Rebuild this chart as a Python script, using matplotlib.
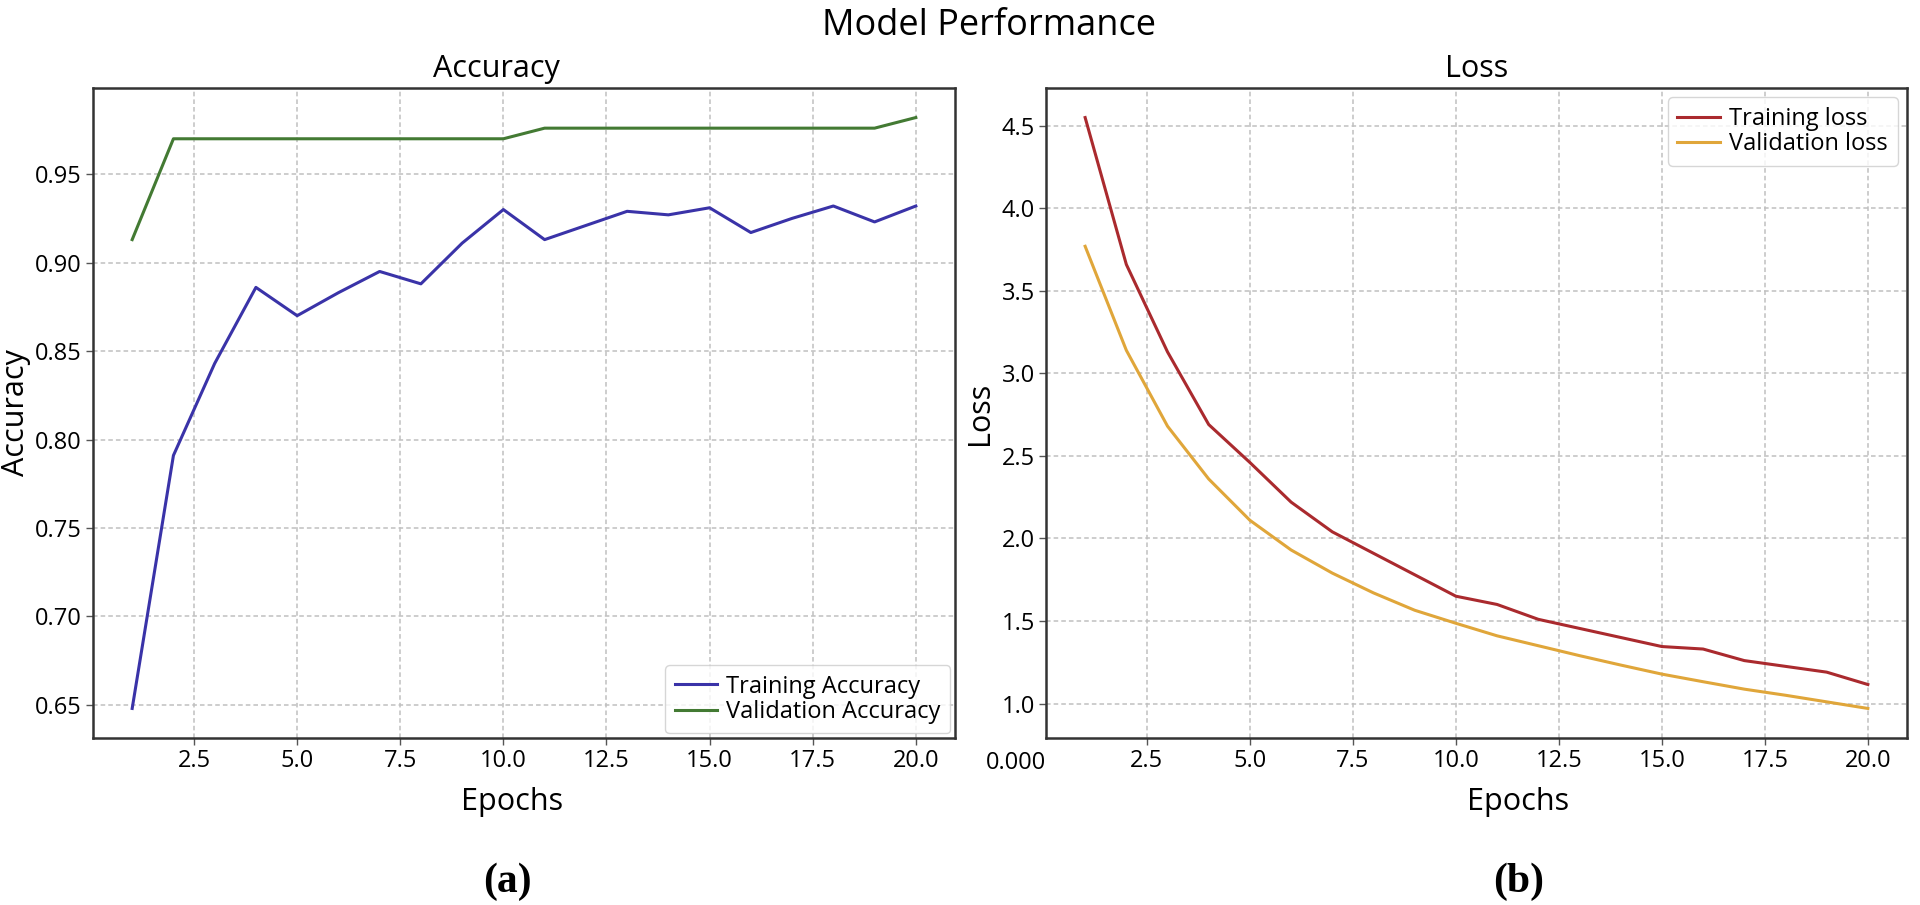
import numpy as np
import matplotlib.pyplot as plt

plt.rcParams['font.family'] = ['Open Sans', 'DejaVu Sans']

# values
epochs = np.arange(1, 21)
train_acc = [0.648, 0.791, 0.843, 0.886, 0.870, 0.883, 0.895, 0.888, 0.911, 0.930,
             0.913, 0.921, 0.929, 0.927, 0.931, 0.917, 0.925, 0.932, 0.923, 0.932]
val_acc = [0.913, 0.970, 0.970, 0.970, 0.970, 0.970, 0.970, 0.970, 0.970, 0.970,
           0.976, 0.976, 0.976, 0.976, 0.976, 0.976, 0.976, 0.976, 0.976, 0.982]
train_loss = [4.55, 3.66, 3.13, 2.69, 2.46, 2.22, 2.04, 1.91, 1.78, 1.65,
              1.60, 1.51, 1.455, 1.40, 1.345, 1.33, 1.26, 1.225, 1.19, 1.115]
val_loss = [3.77, 3.14, 2.68, 2.36, 2.11, 1.93, 1.79, 1.67, 1.565, 1.486,
            1.41, 1.35, 1.29, 1.233, 1.178, 1.132, 1.087, 1.05, 1.01, 0.97]

x_ticks = [2.5, 5.0, 7.5, 10.0, 12.5, 15.0, 17.5, 20.0]
acc_ticks = [0.65, 0.70, 0.75, 0.80, 0.85, 0.90, 0.95]
loss_ticks = [1.0, 1.5, 2.0, 2.5, 3.0, 3.5, 4.0, 4.5]

W, H = 1920, 905
fig = plt.figure(figsize=(W / 100, H / 100), dpi=100)
ax1 = fig.add_axes([93 / W, (H - 738) / H, 862 / W, 650 / H])
ax2 = fig.add_axes([1046 / W, (H - 738) / H, 861 / W, 650 / H])


def style(ax):
    for s in ax.spines.values():
        s.set_color('#333333')
        s.set_linewidth(1.8)
    ax.grid(True, linestyle=(0, (3, 2)), color='#c0c0c0', linewidth=1.1)
    ax.tick_params(labelsize=17, length=5, width=1, color='#555555', pad=3)
    ax.set_xticks(x_ticks)


# Accuracy
ax1.plot(epochs, train_acc, color='#3a33a8', lw=2.2, label='Training Accuracy')
ax1.plot(epochs, val_acc, color='#437a33', lw=2.2, label='Validation Accuracy')
style(ax1)
ax1.set_yticks(acc_ticks)
ax1.set_title('Accuracy', fontsize=22, pad=8, x=0.4675)
ax1.set_xlabel('Epochs', fontsize=22, labelpad=10, x=0.486)
ax1.set_ylabel('Accuracy', fontsize=22, labelpad=3)
ax1.legend(loc='lower right', fontsize=17, borderaxespad=0.2, labelspacing=0.05,
           handlelength=1.8, handletextpad=0.4, edgecolor='#cccccc', fancybox=True)

# Loss
ax2.plot(epochs, train_loss, color='#aa2a2e', lw=2.2, label='Training loss')
ax2.plot(epochs, val_loss, color='#e0a63a', lw=2.2, label='Validation loss')
style(ax2)
ax2.set_yticks(loss_ticks)
ax2.set_title('Loss', fontsize=22, pad=8)
ax2.set_xlabel('Epochs', fontsize=22, labelpad=10, x=0.548)
ax2.set_ylabel('Loss', fontsize=22, labelpad=5)
ax2.legend(loc='upper right', fontsize=17, borderaxespad=0.4, labelspacing=0.05,
           handlelength=1.8, handletextpad=0.4, edgecolor='#cccccc', fancybox=True)
ax2.text(0.0, -0.0385, '0.000', transform=ax2.transAxes, ha='right', va='center',
         fontsize=17)

fig.text(0.515, 1 - 35 / H, 'Model Performance', ha='center', va='baseline', fontsize=26)
fig.text(507 / W, 1 - 882 / H, '(a)', ha='center', va='center', fontsize=30,
         fontweight='bold', family='Liberation Serif')
fig.text(1519 / W, 1 - 882 / H, '(b)', ha='center', va='center', fontsize=30,
         fontweight='bold', family='Liberation Serif')

fig.savefig('out.png', dpi=100)
